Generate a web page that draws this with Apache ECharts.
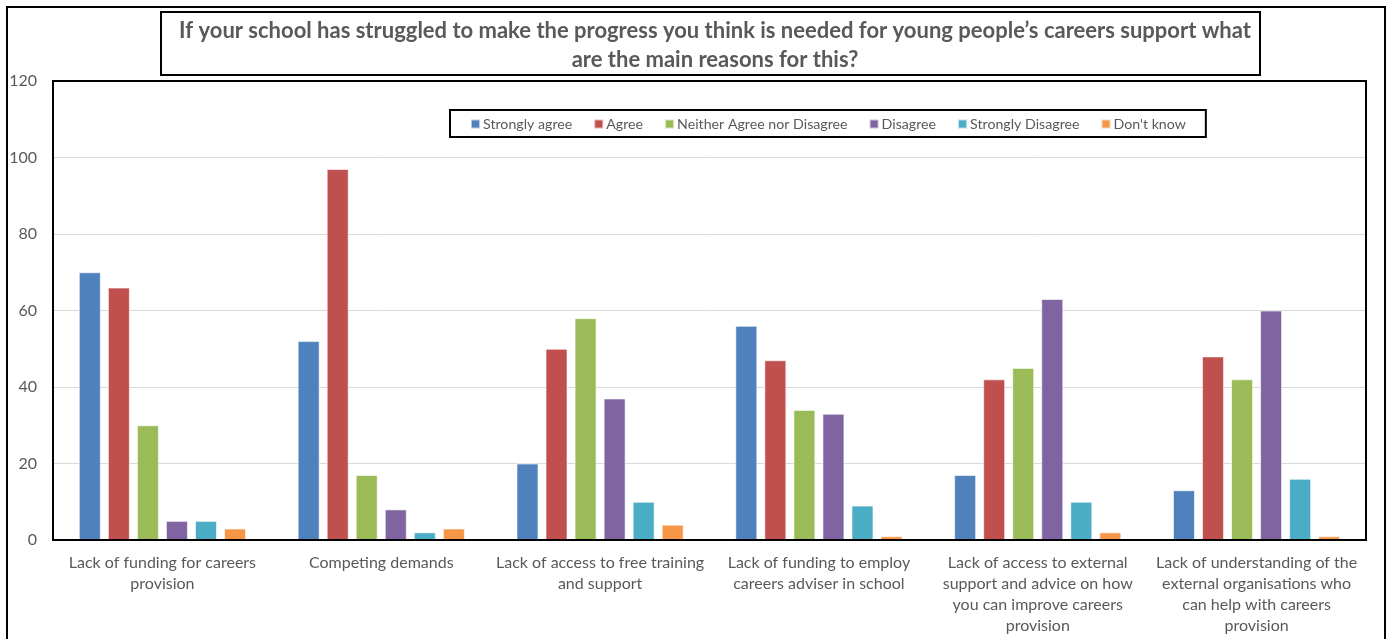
<!DOCTYPE html>
<html>
<head>
<meta charset="utf-8">
<script src="https://cdn.jsdelivr.net/npm/echarts@6/dist/echarts.min.js"></script>
<style>
  html, body { margin: 0; padding: 0; background: #fff; }
  #chart0 { width: 1389px; height: 639px; }
</style>
</head>
<body>
<div id="chart0"></div>
<script>
var categories = [
  'Lack of funding for careers\nprovision',
  'Competing demands',
  'Lack of access to free training\nand support',
  'Lack of funding to employ\ncareers adviser in school',
  'Lack of access to external\nsupport and advice on how\nyou can improve careers\nprovision',
  'Lack of understanding of the\nexternal organisations who\ncan help with careers\nprovision'
];
var seriesNames = ['Strongly agree', 'Agree', 'Neither Agree nor Disagree', 'Disagree', 'Strongly Disagree', "Don't know"];
var stronglyAgree = [70, 52, 20, 56, 17, 13];
var agree = [66, 97, 50, 47, 42, 48];
var neither = [30, 17, 58, 34, 45, 42];
var disagree = [5, 8, 37, 33, 63, 60];
var stronglyDisagree = [5, 2, 10, 9, 10, 16];
var dontKnow = [3, 3, 4, 1, 2, 1];
var yTicks = [0, 20, 40, 60, 80, 100, 120];

var colors = ['#4F81BD', '#C0504D', '#9BBB59', '#8064A2', '#4BACC6', '#F79646'];
var values = [stronglyAgree, agree, neither, disagree, stronglyDisagree, dontKnow];
var FONT = 'Lato';

var chart = echarts.init(document.getElementById('chart0'));

var series = seriesNames.map(function(name, i) {
  return {
    name: name,
    type: 'bar',
    data: values[i],
    barWidth: 22,
    barGap: '32%',
    itemStyle: { color: colors[i], borderColor: 'rgba(255,255,255,0.6)', borderWidth: 1 },
    emphasis: { disabled: true }
  };
});

chart.setOption({
  animation: false,
  textStyle: { fontFamily: FONT },
  title: {
    text: 'If your school has struggled to make the progress you think is needed for young people\u2019s careers support what\nare the main reasons for this?',
    left: 710,
    top: 11,
    textAlign: 'center',
    textStyle: { fontFamily: FONT, fontSize: 22, fontWeight: 'bold', color: '#595959', lineHeight: 29 }
  },
  graphic: [
    { type: 'rect', shape: { x: 7, y: 7, width: 1378, height: 650 }, style: { fill: 'none', stroke: '#000', lineWidth: 2 }, silent: true },
    { type: 'rect', shape: { x: 161, y: 12, width: 1099, height: 63 }, style: { fill: 'none', stroke: '#000', lineWidth: 2 }, silent: true }
  ],
  legend: {
    data: seriesNames,
    left: 450,
    top: 110,
    padding: [7, 20, 6, 20],
    itemGap: 21,
    itemWidth: 9,
    itemHeight: 9,
    icon: 'rect',
    borderColor: '#000',
    borderWidth: 2,
    backgroundColor: '#fff',
    textStyle: { fontFamily: FONT, fontSize: 14.2, color: '#595959', padding: [0, 0, 0, -2] }
  },
  grid: {
    left: 53,
    right: 23,
    top: 81,
    bottom: 99,
    show: true,
    borderColor: '#000',
    borderWidth: 2,
    z: 3
  },
  xAxis: {
    type: 'category',
    data: categories,
    axisLine: { show: false },
    axisTick: { show: false },
    axisLabel: {
      interval: 0,
      margin: 12,
      fontFamily: FONT,
      fontSize: 16,
      color: '#595959',
      lineHeight: 21
    }
  },
  yAxis: {
    type: 'value',
    min: yTicks[0],
    max: yTicks[yTicks.length - 1],
    interval: 20,
    axisLine: { show: false },
    axisTick: { show: false },
    splitLine: { lineStyle: { color: '#D9D9D9', width: 1 } },
    axisLabel: { margin: 16, fontFamily: FONT, fontSize: 16, color: '#595959' }
  },
  series: series
});
</script>
</body>
</html>
